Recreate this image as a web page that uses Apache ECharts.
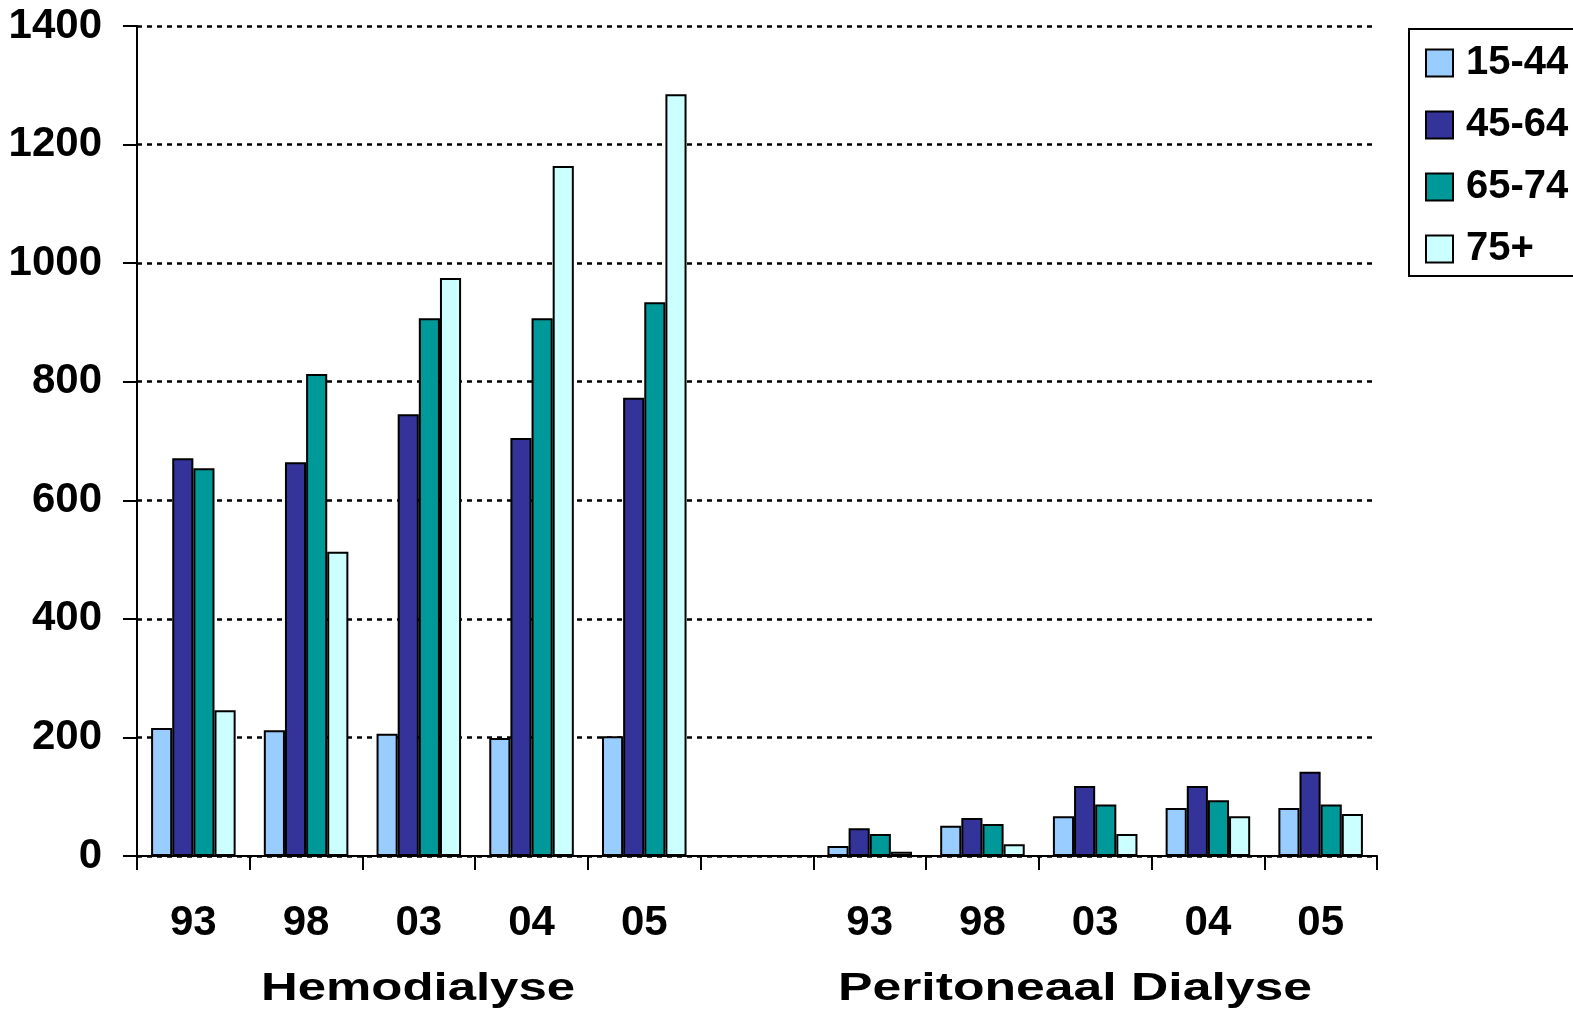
<!DOCTYPE html>
<html>
<head>
<meta charset="utf-8">
<script src="https://cdn.jsdelivr.net/npm/echarts@6/dist/echarts.min.js"></script>
<style>html,body{margin:0;padding:0;background:#fff;}#c{width:1573px;height:1010px;}</style>
</head>
<body>
<div id="c"></div>
<script>
const years = ['93', '98', '03', '04', '05'];
const groups = ['Hemodialyse', 'Peritoneaal Dialyse'];
const seriesNames = ['15-44', '45-64', '65-74', '75+'];
// values per category: HD 93..05, gap, PD 93..05
const s1544 = [216, 212, 206, 199, 202, null, 17, 51, 67, 81, 81];
const s4564 = [671, 664, 745, 705, 773, null, 47, 64, 118, 118, 142];
const s6574 = [654, 813, 907, 907, 934, null, 37, 54, 87, 94, 87];
const s75p  = [246, 513, 975, 1164, 1285, null, 7, 20, 37, 67, 71];
const yTicks = [0, 200, 400, 600, 800, 1000, 1200, 1400];

const colors = ['#99CCFF', '#333399', '#009999', '#CCFFFF'];
const categories = [];
years.forEach(y => categories.push('HD|' + y));
categories.push('GAP|');
years.forEach(y => categories.push('PD|' + y));
const values = [s1544, s4564, s6574, s75p];
const FONT = '"Liberation Sans", Arial, sans-serif';

const chart = echarts.init(document.getElementById('c'), null, {renderer: 'canvas'});
chart.setOption({
  animation: false,
  backgroundColor: '#fff',
  grid: {left: 137, right: 196, top: 26, bottom: 154, containLabel: false},
  legend: {
    orient: 'vertical',
    left: 1409, top: 29,
    padding: [14, 40, 7, 16],
    itemWidth: 27, itemHeight: 27, itemGap: 22,
    borderColor: '#000', borderWidth: 2,
    icon: 'rect',
    itemStyle: {borderColor: '#000', borderWidth: 2},
    textStyle: {fontFamily: FONT, fontWeight: 'bold', fontSize: 40, color: '#000', padding: [0, 0, 0, 8]},
    data: seriesNames
  },
  xAxis: {
    type: 'category',
    data: categories,
    axisLine: {lineStyle: {color: '#000', width: 2}},
    axisTick: {show: true, length: 14, lineStyle: {color: '#000', width: 2}, alignWithLabel: false},
    axisLabel: {
      margin: 46,
      fontFamily: FONT, fontWeight: 'bold', fontSize: 42, color: '#000',
      formatter: v => v.split('|')[1]
    }
  },
  yAxis: {
    type: 'value',
    min: yTicks[0], max: yTicks[yTicks.length - 1], interval: yTicks[1] - yTicks[0],
    axisLine: {show: true, lineStyle: {color: '#000', width: 2}},
    axisTick: {show: true, length: 14, lineStyle: {color: '#000', width: 2}},
    axisLabel: {margin: 35, fontFamily: FONT, fontWeight: 'bold', fontSize: 42, color: '#000',
      formatter: v => String(v)},
    splitLine: {show: true, lineStyle: {color: '#000', width: 2.5, type: [5, 5]}}
  },
  series: seriesNames.map((n, i) => ({
    name: n,
    type: 'bar',
    data: values[i],
    barGap: '0%',
    barCategoryGap: '25%',
    itemStyle: {color: colors[i], borderColor: '#000', borderWidth: 2}
  })),
  graphic: [
    {type: 'text', x: 418, y: 990, scaleX: 1.34,
      style: {text: groups[0], fontFamily: FONT, fontWeight: 'bold', fontSize: 38, fill: '#000', textAlign: 'center', textVerticalAlign: 'middle'}},
    {type: 'text', x: 1075, y: 990, scaleX: 1.36,
      style: {text: groups[1], fontFamily: FONT, fontWeight: 'bold', fontSize: 38, fill: '#000', textAlign: 'center', textVerticalAlign: 'middle'}}
  ]
});
</script>
</body>
</html>
